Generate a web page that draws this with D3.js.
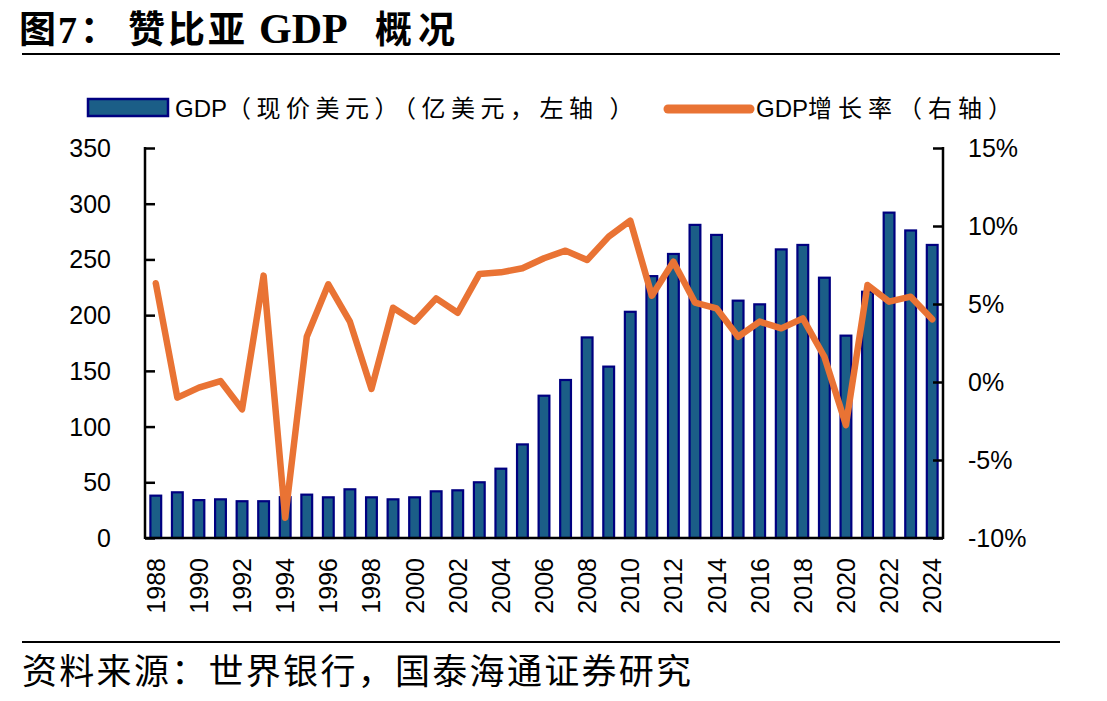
<!DOCTYPE html>
<html><head><meta charset="utf-8">
<script src="https://cdn.jsdelivr.net/npm/d3@7/dist/d3.min.js"></script>
<style>body{margin:0;background:#fff}</style>
</head><body><svg id="c" width="1107" height="701"></svg>
<script>
const years = d3.range(1988, 2025).map(String);
const gdp = [38,41,34,34.7,33,33,36.6,38.9,36.5,43.7,36.5,34.7,36.5,41.9,42.8,50,62.2,84,127.7,141.8,180,153.8,203,235,254.9,281,272,213,209.7,259,263,233.6,181.6,221,292,276,263];
const growth = [6.33,-1.0,-0.36,0.06,-1.75,6.82,-8.7,2.9,6.26,3.87,-0.45,4.76,3.87,5.36,4.44,6.92,7.03,7.29,7.93,8.42,7.82,9.32,10.34,5.53,7.71,5.09,4.72,2.9,3.87,3.44,4.08,1.62,-2.76,6.22,5.15,5.47,4.02];
const leftTicks = [0,50,100,150,200,250,300,350];
const rightTicks = [-10,-5,0,5,10,15];
const xLabels = years.filter((d,i)=>i%2===0);

const svg = d3.select("#c");
const L=145, R=943, T=148, B=538;
const cjk = "'Noto Sans CJK SC', sans-serif";
const lat = "'Liberation Sans', Arial, sans-serif";
const ser = "'Liberation Serif', 'Times New Roman', serif";

// title
const tg = svg.append("g").attr("font-size",37).attr("font-weight","bold");
tg.append("text").attr("x",19).attr("y",43).attr("font-family",cjk).text("图");
tg.append("text").attr("x",58).attr("y",43).attr("font-family",ser).attr("font-size",38).text("7");
tg.append("text").attr("x",80).attr("y",43).attr("font-family",cjk).text("：");
tg.append("text").attr("x",128).attr("y",43).attr("font-family",cjk).attr("letter-spacing",3).text("赞比亚");
tg.append("text").attr("x",259).attr("y",43).attr("font-family",ser).attr("font-size",42).text("GDP");
tg.append("text").attr("x",375).attr("y",43).attr("font-family",cjk).attr("letter-spacing",6).text("概况");
svg.append("line").attr("x1",22).attr("x2",1060).attr("y1",54).attr("y2",54).attr("stroke","#000").attr("stroke-width",2);

const x = d3.scaleBand().domain(years).range([L,R]).paddingInner(0.5).paddingOuter(0.25);
const y = d3.scaleLinear().domain([0,350]).range([B,T]);
const y2 = d3.scaleLinear().domain([-10,15]).range([B,T]);

// bars
svg.append("g").selectAll("rect").data(gdp).join("rect")
  .attr("x",(d,i)=>x(years[i])).attr("width",x.bandwidth())
  .attr("y",d=>y(d)).attr("height",d=>B-y(d))
  .attr("fill","#1b5e87").attr("stroke","#000080").attr("stroke-width",2.2);

// line
const line = d3.line().x((d,i)=>x(years[i])+x.bandwidth()/2).y(d=>y2(d));
svg.append("path").datum(growth).attr("d",line).attr("fill","none")
  .attr("stroke","#E97334").attr("stroke-width",6.5).attr("stroke-linejoin","round").attr("stroke-linecap","round");

// axes
const ga = svg.append("g").attr("transform",`translate(${L},0)`).call(d3.axisRight(y).tickValues(leftTicks).tickSize(10).tickFormat(""));
ga.select(".domain").remove();
ga.selectAll("line").attr("stroke","#000").attr("stroke-width",2.5);
const gb = svg.append("g").attr("transform",`translate(${R},0)`).call(d3.axisLeft(y2).tickValues(rightTicks).tickSize(10).tickFormat(""));
gb.select(".domain").remove();
gb.selectAll("line").attr("stroke","#000").attr("stroke-width",2.5);
svg.append("line").attr("x1",L).attr("x2",L).attr("y1",T-1).attr("y2",B+1).attr("stroke","#000").attr("stroke-width",2.5);
svg.append("line").attr("x1",R).attr("x2",R).attr("y1",T-1).attr("y2",B+1).attr("stroke","#000").attr("stroke-width",2.5);
svg.append("line").attr("x1",L).attr("x2",R).attr("y1",B).attr("y2",B).attr("stroke","#000").attr("stroke-width",2.5);

svg.append("g").selectAll("text").data(leftTicks).join("text")
  .attr("x",111).attr("y",d=>y(d)+9).attr("text-anchor","end").attr("font-size",25).attr("font-family",lat).text(d=>d);
svg.append("g").selectAll("text").data(rightTicks).join("text")
  .attr("x",968).attr("y",d=>y2(d)+9).attr("text-anchor","start").attr("font-size",25).attr("font-family",lat).text(d=>d+"%");
svg.append("g").selectAll("text").data(xLabels).join("text")
  .attr("transform",d=>`translate(${x(d)+x.bandwidth()/2+9},558) rotate(-90)`)
  .attr("text-anchor","end").attr("font-size",25).attr("font-family",lat).text(d=>d);

// legend
svg.append("rect").attr("x",88).attr("y",99).attr("width",80).attr("height",17).attr("fill","#1b5e87").attr("stroke","#000080").attr("stroke-width",2.5);
const lt1 = svg.append("text").attr("x",175).attr("y",117).attr("font-size",24).attr("font-family",lat);
lt1.append("tspan").text("GDP");
lt1.append("tspan").attr("font-family",cjk).attr("letter-spacing",5.5).text("（现价美元）（亿美元，左轴 ）");
svg.append("line").attr("x1",668).attr("x2",750).attr("y1",109).attr("y2",109).attr("stroke","#E97334").attr("stroke-width",9).attr("stroke-linecap","round");
const lt2 = svg.append("text").attr("x",756).attr("y",117).attr("font-size",24).attr("font-family",lat);
lt2.append("tspan").text("GDP");
lt2.append("tspan").attr("font-family",cjk).attr("letter-spacing",6).text("增长率（右轴）");

// source
svg.append("line").attr("x1",22).attr("x2",1060).attr("y1",642).attr("y2",642).attr("stroke","#000").attr("stroke-width",2);
svg.append("text").attr("x",22).attr("y",684).attr("font-size",35).attr("letter-spacing",2.3).attr("font-family",cjk).text("资料来源：世界银行，国泰海通证券研究");
</script></body></html>
